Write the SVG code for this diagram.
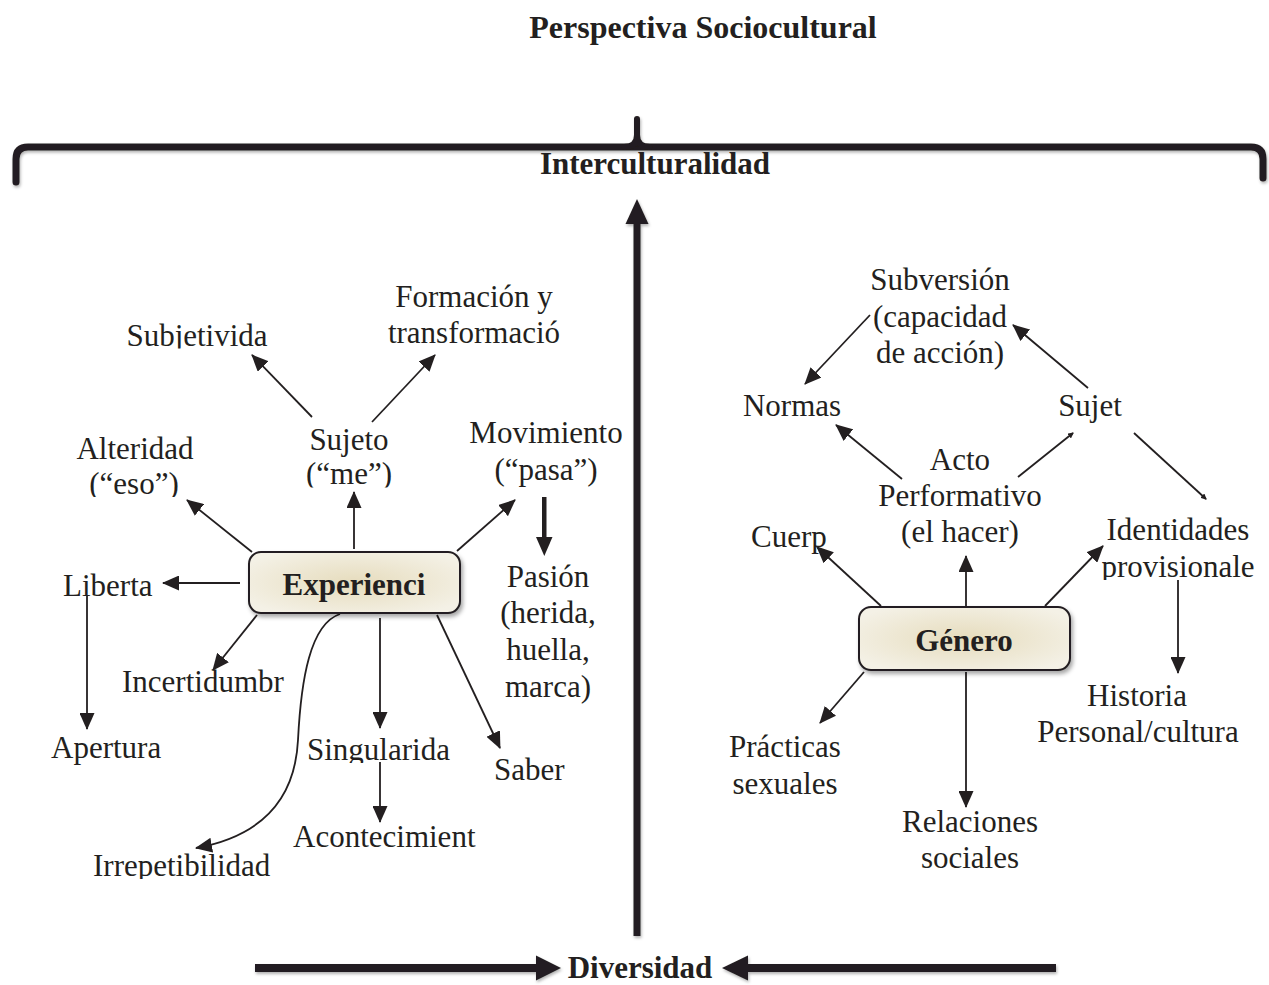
<svg xmlns="http://www.w3.org/2000/svg" width="1269" height="985" viewBox="0 0 1269 985">
<style>
text{font-family:"Liberation Serif","Times New Roman",serif;fill:#231f20}
.t{font-size:31px}
.m{text-anchor:middle}
.b{font-size:31px;font-weight:bold}
.ln{fill:none;stroke:#231f20;stroke-width:1.8}
.box{fill:url(#cream);stroke:#231f20;stroke-width:2}
.big{fill:#231f20}
</style>
<defs>
<marker id="ah" markerUnits="userSpaceOnUse" markerWidth="17" markerHeight="15" viewBox="0 0 17 15" refX="16" refY="7.5" orient="auto"><path d="M0,0 L17,7.5 L0,15 z" fill="#231f20"/></marker>
<marker id="as" markerUnits="userSpaceOnUse" markerWidth="6" markerHeight="6" viewBox="0 0 6 6" refX="5" refY="3" orient="auto"><path d="M0,0 L6,3 L0,6 z" fill="#231f20"/></marker>
<radialGradient id="cream" cx="50%" cy="50%" r="60%"><stop offset="0" stop-color="#e6dcbd"/><stop offset="1" stop-color="#f4f1e6"/></radialGradient>
<filter id="sh" x="-10%" y="-30%" width="120%" height="170%"><feDropShadow dx="2" dy="3" stdDeviation="2" flood-color="#000" flood-opacity="0.35"/></filter>
<filter id="sh2" x="-5%" y="-20%" width="110%" height="150%"><feDropShadow dx="1" dy="2" stdDeviation="1.5" flood-color="#000" flood-opacity="0.3"/></filter>
<clipPath id="c1"><rect x="100" y="300" width="200" height="48.5"/></clipPath>
<clipPath id="c2"><rect x="280" y="460" width="140" height="27.5"/></clipPath>
<clipPath id="c3"><rect x="60" y="470" width="150" height="27"/></clipPath>
<clipPath id="c4"><rect x="290" y="720" width="190" height="43"/></clipPath>
<clipPath id="c5"><rect x="80" y="840" width="210" height="39"/></clipPath>
<clipPath id="c6"><rect x="1090" y="548" width="179" height="32"/></clipPath>
</defs>

<g id="title"><text class="b m" x="703" y="38" style="font-size:32px">Perspectiva Sociocultural</text></g>

<g id="brace" filter="url(#sh2)">
<path d="M16,182 L16,159 Q16,147 28,147 L1251,147 Q1263,147 1263,159 L1263,178" fill="none" stroke="#231f20" stroke-width="7" stroke-linecap="round"/>
<path d="M624,147 Q637,147 637,135 L637,119 M637,135 Q637,147 650,147" fill="none" stroke="#231f20" stroke-width="6" stroke-linecap="round"/>
</g>
<g id="interculturalidad"><text class="b m" x="655" y="174">Interculturalidad</text></g>

<g id="axes" filter="url(#sh2)">
<rect class="big" x="633.5" y="222" width="7" height="714"/>
<polygon class="big" points="637,199 648.5,224 625.5,224"/>
<rect class="big" x="255" y="964" width="283" height="8"/>
<polygon class="big" points="536,955.5 561,968 536,980.5"/>
<rect class="big" x="746" y="964" width="310" height="8"/>
<polygon class="big" points="748,955.5 722,968 748,980.5"/>
</g>
<g id="diversidad"><text class="b m" x="640" y="978">Diversidad</text></g>

<g id="connectors">
<line class="ln" x1="312" y1="417" x2="252" y2="355" marker-end="url(#ah)"/>
<line class="ln" x1="372" y1="422" x2="435" y2="355" marker-end="url(#ah)"/>
<line class="ln" x1="354" y1="549" x2="354" y2="492" marker-end="url(#ah)"/>
<line class="ln" x1="252" y1="552" x2="187" y2="500" marker-end="url(#ah)"/>
<line class="ln" x1="457" y1="551" x2="515" y2="500" marker-end="url(#ah)"/>
<line class="ln" x1="240" y1="583" x2="163" y2="583" marker-end="url(#ah)"/>
<line class="ln" x1="87" y1="596" x2="87" y2="729" marker-end="url(#ah)"/>
<line class="ln" x1="257" y1="615" x2="213" y2="670" marker-end="url(#ah)"/>
<path class="ln" d="M340,614 C310,624 301,680 298,740 C295,800 262,836 196,848" marker-end="url(#ah)"/>
<line class="ln" x1="380" y1="618" x2="380" y2="728" marker-end="url(#ah)"/>
<line class="ln" x1="380" y1="762" x2="380" y2="822" marker-end="url(#ah)"/>
<line class="ln" x1="437" y1="615" x2="500" y2="748" marker-end="url(#ah)"/>
<rect class="big" x="542" y="497" width="4.5" height="42"/>
<polygon class="big" points="536,537 552.5,537 544.3,556"/>
<line class="ln" x1="870" y1="315" x2="805" y2="384" marker-end="url(#ah)"/>
<line class="ln" x1="1088" y1="388" x2="1013" y2="325" marker-end="url(#ah)"/>
<line class="ln" x1="902" y1="479" x2="836" y2="425" marker-end="url(#ah)"/>
<line class="ln" x1="1018" y1="477" x2="1073" y2="433" marker-end="url(#as)"/>
<line class="ln" x1="1134" y1="433" x2="1206" y2="499" marker-end="url(#as)"/>
<line class="ln" x1="881" y1="606" x2="817" y2="547" marker-end="url(#ah)"/>
<line class="ln" x1="966" y1="606" x2="966" y2="556" marker-end="url(#ah)"/>
<line class="ln" x1="1045" y1="606" x2="1103" y2="546" marker-end="url(#ah)"/>
<line class="ln" x1="864" y1="672" x2="820" y2="723" marker-end="url(#ah)"/>
<line class="ln" x1="966" y1="672" x2="966" y2="807" marker-end="url(#ah)"/>
<line class="ln" x1="1178" y1="580" x2="1178" y2="673" marker-end="url(#ah)"/>
</g>

<g id="experiencia"><rect class="box" x="249" y="552" width="211" height="61" rx="12" filter="url(#sh)"/><text class="b m" x="354" y="595">Experienci</text></g>
<g id="genero"><rect class="box" x="859" y="607" width="211" height="63" rx="12" filter="url(#sh)"/><text class="b m" x="964" y="651">Género</text></g>

<g id="subjetividad"><text class="t m" x="197" y="346" clip-path="url(#c1)">Subjetivida</text></g>
<g id="formacion"><text class="t m" x="474" y="307">Formación y</text><text class="t m" x="474" y="343">transformació</text></g>
<g id="sujeto"><text class="t m" x="349" y="450">Sujeto</text><text class="t m" x="349" y="484" clip-path="url(#c2)">(“me”)</text></g>
<g id="alteridad"><text class="t m" x="135" y="459">Alteridad</text><text class="t m" x="134" y="494" clip-path="url(#c3)">(“eso”)</text></g>
<g id="movimiento"><text class="t m" x="546" y="443">Movimiento</text><text class="t m" x="546" y="480">(“pasa”)</text></g>
<g id="pasion"><text class="t m" x="548" y="587">Pasión</text><text class="t m" x="548" y="623">(herida,</text><text class="t m" x="548" y="660">huella,</text><text class="t m" x="548" y="697">marca)</text></g>
<g id="libertad"><text class="t" x="63" y="596">Liberta</text></g>
<g id="incertidumbre"><text class="t" x="122" y="692">Incertidumbr</text></g>
<g id="apertura"><text class="t" x="51" y="758">Apertura</text></g>
<g id="singularidad"><text class="t" x="307" y="760" clip-path="url(#c4)">Singularida</text></g>
<g id="acontecimiento"><text class="t" x="293" y="847">Acontecimient</text></g>
<g id="irrepetibilidad"><text class="t" x="93" y="876" clip-path="url(#c5)">Irrepetibilidad</text></g>
<g id="saber"><text class="t" x="494" y="780">Saber</text></g>

<g id="subversion"><text class="t m" x="940" y="290">Subversión</text><text class="t m" x="940" y="327">(capacidad</text><text class="t m" x="940" y="363">de acción)</text></g>
<g id="normas"><text class="t m" x="792" y="416">Normas</text></g>
<g id="sujet"><text class="t m" x="1090" y="416">Sujet</text></g>
<g id="acto"><text class="t m" x="960" y="470">Acto</text><text class="t m" x="960" y="506">Performativo</text><text class="t m" x="960" y="542">(el hacer)</text></g>
<g id="cuerpo"><text class="t" x="751" y="547">Cuerp</text></g>
<g id="identidades"><text class="t m" x="1178" y="540">Identidades</text><text class="t m" x="1178" y="577" clip-path="url(#c6)">provisionale</text></g>
<g id="historia"><text class="t m" x="1137" y="706">Historia</text><text class="t m" x="1138" y="742">Personal/cultura</text></g>
<g id="practicas"><text class="t m" x="785" y="757">Prácticas</text><text class="t m" x="785" y="794">sexuales</text></g>
<g id="relaciones"><text class="t m" x="970" y="832">Relaciones</text><text class="t m" x="970" y="868">sociales</text></g>
</svg>
